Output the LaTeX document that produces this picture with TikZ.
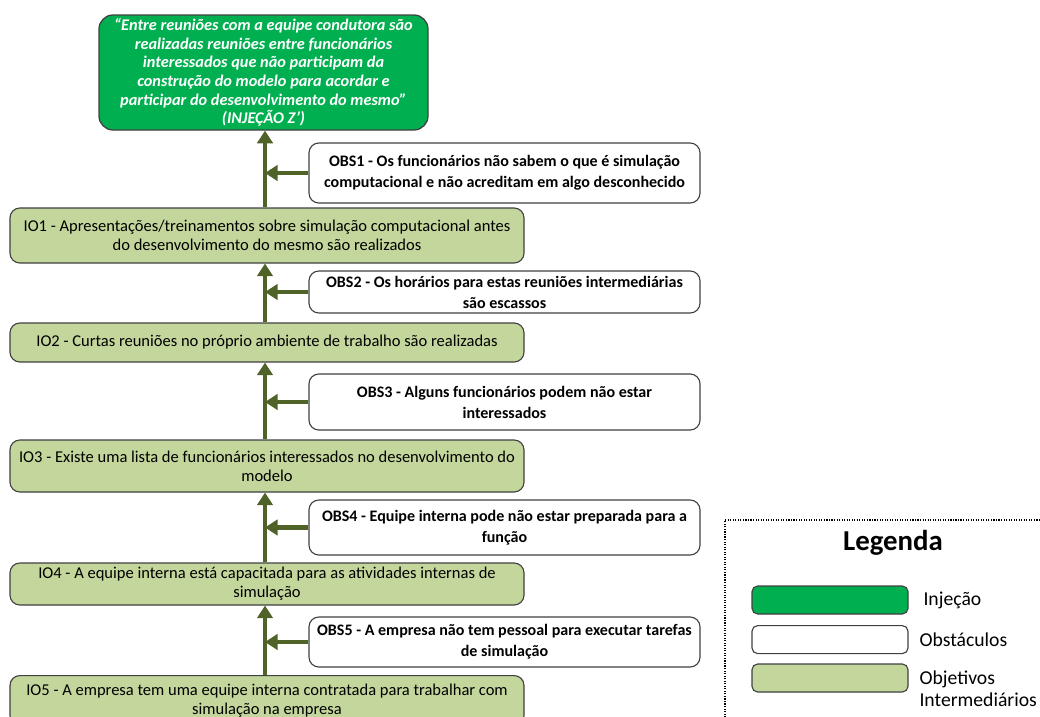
\documentclass[tikz,border=0pt]{standalone}
\usepackage{fontspec}
\setmainfont{Carlito}
\usetikzlibrary{arrows.meta,positioning}

\definecolor{injgreen}{RGB}{0,176,80}
\definecolor{iogreen}{RGB}{195,214,155}
\definecolor{arrowgreen}{RGB}{79,98,40}
\definecolor{boxedge}{RGB}{64,64,64}

\tikzset{
    injbox/.style={draw=boxedge, fill=injgreen, rounded corners=10pt, line width=0.9pt,
        text=white, font=\fontsize{11.6}{13.2}\selectfont\bfseries\itshape, align=center,
        minimum width=8.225cm, inner sep=2pt},
    obsbox/.style={draw=boxedge, fill=white, rounded corners=7pt, line width=0.8pt,
        font=\fontsize{11.4}{15}\selectfont\bfseries, align=center, minimum width=9.775cm, inner sep=2pt},
    iobox/.style={draw=boxedge, fill=iogreen, rounded corners=7pt, line width=0.8pt,
        font=\fontsize{11.75}{13.4}\selectfont, align=center, minimum width=12.85cm, inner sep=2pt},
    keybox/.style={draw=boxedge, rounded corners=4pt, line width=0.8pt,
        minimum width=3.9cm, minimum height=0.7cm},
    keylabel/.style={font=\fontsize{14}{15.5}\selectfont, align=left},
    link/.style={arrowgreen, line width=3.2pt, -{Triangle[width=11pt,length=9pt]}},
}

\begin{document}
\begin{tikzpicture}

\useasboundingbox (0,0) rectangle (26,-17.925);

% injection at the top
\node[injbox, minimum height=2.875cm] (inj) at (6.5875,-1.8125)
    {``Entre reuniões com a equipe condutora são\\
     realizadas reuniões entre funcionários\\
     interessados que não participam da\\
     construção do modelo para acordar e\\
     participar do desenvolvimento do mesmo''\\
     (INJEÇÃO Z')};

% obstacles
\node[obsbox, minimum height=1.5cm] (obs1) at (12.6125,-4.325)
    {OBS1 - Os funcionários não sabem o que é simulação\\
     computacional e não acreditam em algo desconhecido};
\node[obsbox, minimum height=1.05cm] (obs2) at (12.6125,-7.3)
    {OBS2 - Os horários para estas reuniões intermediárias\\
     são escassos};
\node[obsbox, minimum height=1.4cm] (obs3) at (12.6125,-10.05)
    {OBS3 - Alguns funcionários podem não estar\\
     interessados};
\node[obsbox, minimum height=1.375cm] (obs4) at (12.6125,-13.1875)
    {OBS4 - Equipe interna pode não estar preparada para a\\
     função};
\node[obsbox, minimum height=1.25cm] (obs5) at (12.6125,-16.05)
    {OBS5 - A empresa não tem pessoal para executar tarefas\\
     de simulação};

% intermediate objectives
\node[iobox, minimum height=1.375cm] (io1) at (6.675,-5.8875)
    {IO1 - Apresentações/treinamentos sobre simulação computacional antes\\
     do desenvolvimento do mesmo são realizados};
\node[iobox, minimum height=0.975cm] (io2) at (6.675,-8.5625)
    {IO2 - Curtas reuniões no próprio ambiente de trabalho são realizadas};
\node[iobox, minimum height=1.3cm] (io3) at (6.675,-11.65)
    {IO3 - Existe uma lista de funcionários interessados no desenvolvimento do\\
     modelo};
\node[iobox, minimum height=1.05cm] (io4) at (6.675,-14.6)
    {IO4 - A equipe interna está capacitada para as atividades internas de\\
     simulação};
\node[iobox, minimum height=1.25cm, anchor=north] (io5) at (6.675,-16.875)
    {IO5 - A empresa tem uma equipe interna contratada para trabalhar com\\
     simulação na empresa};

\coordinate (trunk) at (6.625,0);

\foreach \a/\b in {io1/inj, io2/io1, io3/io2, io4/io3, io5/io4} {
    \draw[link] (\a.north -| trunk) -- (\b.south -| trunk);
}
\foreach \o in {obs1,obs2,obs3,obs4,obs5} {
    \draw[link] (\o.west) -- (\o.west -| trunk);
}

% legend
\draw[densely dotted, line width=0.8pt] (18.125,-18.5) -- (18.125,-13) -- (26.5,-13);
\node[font=\fontsize{20.5}{22}\selectfont\bfseries] (legtitle) at (22.325,-13.575) {Legenda};

\node[keybox, fill=injgreen] (keyinj) at (20.75,-15.0) {};
\node[keybox, fill=white] (keyobs) at (20.75,-15.99) {};
\node[keybox, fill=iogreen] (keyio) at (20.75,-16.95) {};

\node[keylabel, right=0.25cm of keyinj] (labinj) {Injeção};
\node[keylabel, right=0.15cm of keyobs] (labobs) {Obstáculos};
\node[keylabel, right=0.15cm of keyio, yshift=-0.27cm] (labio) {Objetivos\\Intermediários};

\end{tikzpicture}
\end{document}
